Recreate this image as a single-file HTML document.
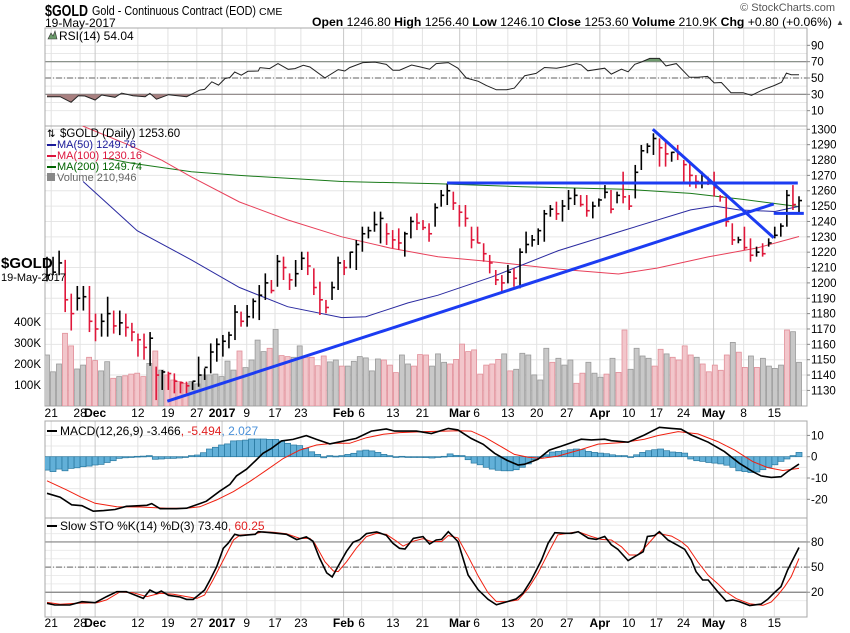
<!DOCTYPE html>
<html><head><meta charset="utf-8"><style>
body{margin:0;background:#fff;}
svg{display:block;font-family:"Liberation Sans",sans-serif;}
</style></head><body>
<svg id="chart" width="850" height="633" viewBox="0 0 850 633" xmlns="http://www.w3.org/2000/svg">
<defs>
<clipPath id="cRsi"><rect x="45" y="28" width="762" height="98"/></clipPath>
<clipPath id="cMain"><rect x="45" y="126" width="762" height="280"/></clipPath>
<clipPath id="cMacd"><rect x="45" y="421" width="762" height="97"/></clipPath>
<clipPath id="cSto"><rect x="45" y="518" width="762" height="99"/></clipPath>
<clipPath id="cLow30"><rect x="45" y="94.3" width="762" height="32"/></clipPath>
<clipPath id="cHigh70"><rect x="45" y="28" width="762" height="33.7"/></clipPath>
</defs>
<g id="grid"></g>
<g id="marks"></g>
<g id="texts">
<text x="45" y="16" font-size="16" font-weight="bold" textLength="43" lengthAdjust="spacingAndGlyphs">$GOLD</text>
<text x="92" y="15" font-size="12.5" textLength="164" lengthAdjust="spacingAndGlyphs">Gold - Continuous Contract (EOD)</text>
<text x="259" y="15" font-size="10.5">CME</text>
<text x="45" y="27" font-size="12">19-May-2017</text>
<text x="835" y="11" font-size="11" fill="#555" text-anchor="end">© StockCharts.com</text>
<text x="312" y="26" font-size="12" textLength="520" lengthAdjust="spacingAndGlyphs"><tspan font-weight="bold">Open</tspan> 1246.80 <tspan font-weight="bold">High</tspan> 1256.40 <tspan font-weight="bold">Low</tspan> 1246.10 <tspan font-weight="bold">Close</tspan> 1253.60 <tspan font-weight="bold">Volume</tspan> 210.9K <tspan font-weight="bold">Chg</tspan> +0.80 (+0.06%)</text>
<text x="836" y="25" font-size="8" fill="#444">▲</text>
<text x="59" y="40" font-size="12">RSI(14) 54.04</text>
<path d="M48 39 L51 33 L53 36 L55 31 L57 39 Z" fill="#6a9a6a" stroke="#333" stroke-width="0.6"/>
<text x="60" y="137" font-size="11.5">$GOLD (Daily) 1253.60</text>
<text x="47" y="137" font-size="10">⇅</text>
<rect x="47" y="144" width="9" height="2" fill="#1a1a9a"/>
<text x="57" y="148" font-size="11" fill="#1a1a9a">MA(50) 1249.76</text>
<rect x="47" y="155" width="9" height="2" fill="#dc143c"/>
<text x="57" y="159" font-size="11" fill="#dc143c">MA(100) 1230.16</text>
<rect x="47" y="166" width="9" height="2" fill="#006400"/>
<text x="57" y="170" font-size="11" fill="#006400">MA(200) 1249.74</text>
<text x="57" y="181" font-size="11" fill="#666">Volume 210,946</text>
<rect x="47" y="173" width="8" height="8" fill="#888"/>
<text x="1" y="268" font-size="15" font-weight="bold">$GOLD</text>
<text x="1" y="281" font-size="11">19-May-2017</text>
<rect x="47" y="430" width="10" height="2" fill="#000"/>
<text x="60" y="435" font-size="12">MACD(12,26,9) -3.466<tspan fill="#e02020">, -5.494</tspan><tspan fill="#4a90d9">, 2.027</tspan></text>
<rect x="47" y="525" width="10" height="2" fill="#000"/>
<text x="60" y="530" font-size="12">Slow STO %K(14) %D(3) 73.40<tspan fill="#e02020">, 60.25</tspan></text>
</g>
</svg>
<script>
// ---------- data ----------
const highs=[1217,1217,1221,1215,1193,1198,1198,1198,1180,1180,1191,1182,1182,1180,1174,1167,1167,1168,1145.5,1143.3,1142.2,1141.1,1135.7,1135.7,1135.7,1152,1144.4,1160.6,1163.9,1166.1,1168.2,1185.6,1181.3,1185.6,1189.9,1198.6,1206.2,1201.9,1218.2,1217.1,1206.2,1214.9,1220.3,1220.3,1209.5,1200.8,1188.9,1200.8,1217.1,1214.9,1220.3,1227.9,1236.6,1236.6,1246.4,1246.4,1238.8,1234.4,1235.5,1233.3,1243.1,1245.3,1240.9,1238.8,
1251.8,1260.5,1264.8,1259.4,1250.7,1250.7,1236.6,1236.6,1225.8,1218.2,1208.4,1205.1,1211.7,1209.5,1222.5,1233.4,1231.2,1235.5,1247.5,1250.7,1252.9,1254,1260.5,1261.6,1257.2,1257.2,1252.9,1255,1263.7,1260.5,1259.4,1272.4,1257.2,1276.8,1289.8,1290.9,1297.4,1294.1,1292,1285.4,1289.8,1280,1277.9,1270.2,1272.4,1269.2,1272.4,1257.2,1256.1,1238.8,1230.1,1236.6,1229,1223.6,1225.8,1229,1236.6,1238.8,1260.5,1263.7,1256.4];
const lows=[1201,1205,1205,1181,1169,1182,1182,1168,1162,1165,1165,1167,1166,1165,1162,1152,1150,1146,1123.7,1130.3,1130.3,1128.1,1128.1,1128.1,1130.3,1132.4,1136.8,1141.1,1148.7,1152,1157.4,1162.8,1171.5,1171.5,1176.9,1175.8,1188.9,1193.2,1197.5,1201.9,1195.4,1197.5,1208.4,1205.1,1192.1,1179.1,1180.2,1188.9,1195.4,1205.1,1209.5,1208.4,1220.3,1229,1233.3,1225.7,1224.7,1222.5,1221.4,1217.1,1229,1234.4,1234.4,1226.8,
1236.6,1249.6,1250.7,1247.5,1236.6,1236.6,1222.5,1225.8,1213.8,1206.2,1198.6,1194.3,1199.7,1197.5,1196.5,1219.3,1223.6,1224.7,1226.8,1243.1,1241,1239.9,1247.5,1250.7,1249.6,1243.1,1242,1249.6,1255,1245.3,1251.8,1251.8,1247.5,1255,1273.5,1284.4,1283.3,1275.7,1275.7,1278.9,1280,1265.9,1262.6,1261.6,1261.6,1263.7,1256.2,1252.9,1236.6,1224.7,1225.8,1221.4,1213.8,1217.1,1217.1,1223.6,1229,1230.1,1236.6,1247.5,1246.1];
const closes=[1205,1207,1213,1189,1180,1190,1191,1175,1170,1175,1180,1172,1174,1171,1168,1163,1158,1164,1140,1142,1141,1136,1135,1133,1136,1140,1145,1155,1160,1162,1166,1181,1175,1178,1188,1192,1200,1195,1214,1210,1202,1206,1216,1211,1197,1189,1184,1197,1213,1210,1220,1225,1232,1234,1238,1242,1232,1228,1226,1232,1240,1239,1236,1232,
1249,1257,1260,1252,1246,1242,1228,1226,1219,1213,1202,1200,1207,1203,1220,1225,1228,1234,1245,1248,1245,1250,1255,1257,1251,1247,1250,1254,1259,1248,1257,1256,1250,1272,1286,1289,1294,1288,1284,1285,1284,1277,1270,1266,1270,1267,1262,1256,1240,1228,1228,1223,1218,1220,1219,1226,1231,1237,1257,1251,1253.6];
const volumes=[243,163,200,346,286,176,195,232,216,167,211,132,140,144,152,156,140,203,262,171,148,124,116,108,116,105,148,148,152,140,214,171,262,183,219,314,259,275,365,240,235,232,286,232,232,192,238,210,219,190,190,213,235,229,167,224,219,195,159,243,200,190,245,
243,190,248,208,200,222,295,259,267,152,195,200,222,248,167,175,251,243,148,124,275,208,227,195,219,108,156,208,156,137,152,227,160,362,175,275,238,227,190,270,248,232,219,286,243,232,200,163,195,170,243,303,256,184,238,184,227,190,179,195,362,354,208];
const ma50Idx=[6,15,24,32,40,49,53,60,65,74,85,96,107,111,115,121,125];
const ma50Val=[1266,1234,1215,1197,1184.5,1177.4,1178,1187,1192,1204,1221,1234.4,1247.5,1250,1247.5,1246.5,1249.8];
const ma100Idx=[4,6,13.5,19,24,32,40,49,57,65,74,85,95,101.5,110,118,125];
const ma100Val=[1310,1302,1290,1280,1269,1252.7,1241,1230,1222.7,1217,1213.8,1209,1205.8,1209.7,1217,1222.7,1230.2];
const ma200Idx=[10,14,24,32,49,65,79,96,107,115.5,125];
const ma200Val=[1281,1278,1272.4,1270,1266,1264.5,1262.6,1261,1258.3,1254.4,1249.7];
const rsiIdx=[0,2.2,4,5.2,6.3,8,9.1,11.3,12.4,14.3,16.3,17.1,18.2,20.2,23.2,25.4,26.2,27.4,28.5,29.6,30.4,31.2,32.3,33.4,35.1,35.4,37,38.4,40.1,41.2,42.6,43.7,46.2,48.4,49.5,50.3,52.5,54.5,56.4,57.5,58.6,60.6,62,63.6,64.7,66.7,68.3,69.7,71.7,73,74.7,76.4,77.7,79.4,81.3,82.7,84.7,86.1,88,88.8,89.9,92.7,93.8,95.5,96.6,97.7,98.8,100.2,101.8,102.9,104.6,106.8,108.2,109.8,110.9,112.1,113.7,115.7,117.1,119,120.9,122.1,122.9,123.7,125];
const rsiVal=[27.1,27.1,20.3,28.3,28,23.1,29.2,26.4,31.5,28.3,27.1,31.2,24,29.6,27.1,35.2,36,45.3,41.3,49.4,50.6,57.4,53.4,58.2,58.6,62.7,61.5,67.6,60.7,61.5,65.5,63.5,50.1,60.3,58.6,62.7,68.8,69.5,66.7,59.5,59.5,65.9,63.6,60.8,67.6,68.8,62,50,46,41,35.6,35.6,37.6,52.8,55.6,62.8,62,64,67.6,66,58.8,62,54.8,60.8,57.6,66.8,69.6,74,74,64.8,67.6,50.8,50.8,52,44,44.5,32,32,28.8,35.6,40.8,44.8,56,54,54.04];
const macdIdx=[0,2.2,4.1,5.8,7.7,9.4,11.3,13.2,16.6,17.4,18.8,21.5,23.2,25.4,26.5,28.7,30.4,31.5,33.2,34.6,35.9,37.3,39,40.9,43.1,44.8,47,48.7,51.4,53.9,56.4,57.8,61.4,62.8,63.9,66.7,68.3,70.5,72.5,74.4,76.4,78.3,79.4,81.6,83.5,85.5,87.2,88.8,90.5,92.7,93.8,96.6,99.3,101.8,103.8,105.4,107.1,109.9,112.6,115.1,117.3,118.7,120.4,122,123.1,125];
const macdVal=[-17.2,-19,-22.6,-23,-25.6,-25.3,-24.8,-23.3,-22.8,-22,-24.4,-24.4,-24.2,-22,-20.9,-16.2,-13,-9,-5.8,-2,1.6,3.9,7.4,8.1,9.9,8.1,6,7,8.6,12,13,12,12,11.4,10.9,13.3,12.6,8.6,5.8,1.6,-1.6,-3.9,-3.5,-1.2,3.1,5,6.6,8.2,7.9,8.2,7.5,6.8,10.2,13.8,13.3,12.9,10.2,6.8,2.4,-3.1,-7,-9,-9.7,-9.4,-7,-3.466];
const sigIdx=[0,3.3,5.5,8,11.6,15.4,19.9,23.2,25.4,28.2,31,33.7,36.5,39.3,42,44.8,47.6,50.3,53.1,55.9,58.6,62.8,66.1,68.3,70.5,72.8,75.5,77.7,80,82.2,84.9,88.8,91.6,96,99.3,101.5,104.9,108.2,111.5,114.3,117.3,119.8,122.3,125];
const sigVal=[-11.3,-15.7,-18.8,-21.9,-23.5,-23.6,-24.2,-24.2,-23.5,-20.3,-16.4,-11.7,-6.3,-0.8,3.1,5.5,6.3,6.3,8.9,10.5,11.3,11.8,12,12.2,12,9.1,4.7,1.1,-0.3,-0.8,0.3,3.4,5.9,6.7,8.2,9.9,11.8,10.7,7.1,3.1,-2.3,-5.1,-6.5,-5.494];
const histVal=[-6.3,-7,-5.8,-6.6,-5.5,-5.2,-4.7,-4.4,-3.9,-3.6,-2.7,-1.9,-0.8,-0.5,-0.2,0.2,0.3,0.5,-1.2,-1.1,-0.8,-0.8,-0.6,-0.3,0.5,0.8,1.9,3.6,4.4,5.5,6,7.4,7.5,7.8,8.3,8.3,8.3,8.1,8.1,7.4,6.3,5.5,5.2,3.9,2.3,1.1,-0.5,0.5,0.3,0.5,1.1,1.6,2.7,3.1,2.7,2,1.1,0.5,0,0.2,0,-0.2,-0.3,-0.4,-0.6,
-0.2,0.2,1.3,0.6,0.5,-1.4,-3,-3.8,-5,-5.8,-6.4,-6.6,-6.6,-6.1,-5,-3.4,-1.4,-0.6,0.9,2.2,2.5,2.8,3.3,3.6,3.3,2.5,2,1.7,1.4,0.9,0.5,0.5,-0.2,0.9,2,2.8,3.3,3.6,2.8,2.2,2,1.7,-1.1,-1.9,-2.2,-2.7,-3,-3.4,-4,-5,-6.6,-7,-7.4,-7.2,-6.1,-5,-3.8,-2.2,-1.1,0.5,2.027];
const kIdx=[0,1.3,3.8,5.8,8,9.9,11.6,13.2,16,17.1,18.2,19,20.2,22.1,23.2,24.3,25.4,26.2,27.1,28.2,29.3,30.1,31.2,32.1,33.4,34.6,35.1,36.5,38.2,39.8,41.5,43.1,44.2,45.3,46.5,47.4,48.7,49.8,50.9,52,53.1,54.8,56.4,57.5,58.6,59.5,60.9,62.5,63.6,64.7,65.6,66.7,68.3,70,71.7,73.3,74.7,76.6,78,79.1,80.5,82.2,83.3,84.4,86.1,87.2,88.3,90,91.3,92.7,93.8,94.9,96.6,97.7,99.1,99.8,101,101.8,103.2,104.9,106,107.1,107.9,109,109.9,111.5,112.9,114,115.1,116.8,118.7,119.8,120.9,122,123.1,125];
const kVal=[6.8,4.8,4.8,8.7,7.5,14.8,20.7,20.7,12.7,22.7,18.7,21.5,16.3,14.3,11.5,11.5,17.9,22.7,34.6,50.5,72.4,78.4,89.2,87.5,88.4,89.2,92.3,91.5,90.3,89.2,82.8,86,80.9,61,43.1,38.3,55,69,79.7,82.8,90,92,88,78.4,72.4,71.6,84.4,86.4,77.6,82.3,83.1,92.3,80.5,40.6,22.8,11.6,5,8.9,12,18.7,34.6,58.5,78.4,91.1,90.3,90.3,92.3,84.5,83.1,86.5,76.6,71.2,57.8,62.5,68.4,86.5,87.7,92.3,82.3,75.6,71.2,58.5,44.5,34.6,34.6,20.7,9.6,10.8,8.8,4.2,5.8,11.6,19.5,26.7,46.5,73.4];
const dIdx=[0,2.2,4.9,8.3,9.9,12.1,14.3,16.6,18.8,21,23.2,24.9,26.2,27.6,29.3,31,32.1,34.3,35.9,37.6,39.8,42,43.7,44.5,46.2,47.6,48.4,49.8,51.4,53.1,54.8,56.4,58.1,59.2,60.9,62.5,63.9,65.6,66.7,68.3,70,71.7,73.3,74.7,76.6,78.3,80,81.6,83.3,84.9,87.2,88.3,90.5,92.1,93.8,95.5,96.8,98.2,99.6,101.5,103.8,105.4,106.5,108.2,109.9,111.5,112.9,114.6,116.8,119,120.4,121.5,122.6,123.7,125];
const dVal=[7.9,5.6,6.8,7.5,10.8,20.3,19.5,14.8,18.7,17.5,14.8,12.7,16.7,34.6,58.4,82.3,88.3,89.2,92.3,91.5,89.9,84.3,84.3,78.4,56.5,45.4,44.6,56.5,72.4,86.4,90.3,89.2,80.9,75,80.9,84,80.5,80.5,87.7,84.9,62.9,39,19.5,8.8,8.8,10.8,24.7,42.6,66.5,88.4,91.2,92.3,86.5,83.1,82.3,74.2,64.4,64.4,75.2,90.3,87,80.5,74,56.1,40.2,30.2,20.3,12.3,6.3,4.3,8.3,16.7,26.6,38.6,60.25];
const priceTicks=[1300,1290,1280,1270,1260,1250,1240,1230,1220,1210,1200,1190,1180,1170,1160,1150,1140,1130];
const volTicks=[100,200,300,400];
const rsiTicks=[90,70,50,30,10];
const macdTicks=[10,0,-10,-20];
const stoTicks=[80,50,20];
const dateLabels=["21","28","Dec","12","19","27","2017","9","17","23","Feb","6","13","21","Mar","6","13","20","27","Apr","10","17","24","May","8","15"];
const dateIdx=[0.7,5.5,8,15.1,20.1,24.9,29.1,33.2,37.9,42.2,49.3,52.3,57.5,62.4,68.6,71.4,76.6,81.4,86.4,91.9,96.7,101.3,105.8,110.8,115.8,120.9];
const dateMajor=[false,false,true,false,false,false,true,false,false,false,true,false,false,false,true,false,false,false,false,true,false,false,false,true,false,false];
const trendUp=[20,1123,120.8,1251.4];
const trendTop=[66.5,1265,124.8,1265];
const trendDown=[100.7,1300,120.8,1229.4];
const trendShort=[120.8,1245.3,125.8,1245.3];

// ---------- scales ----------
const X0=47, X1=799;
function xInd(i){return X0+i*(X1-X0)/125;}
function xPrice(i){return X0+i*(X1-X0)/(closes.length-1);}
function yP(p){return 129.3+(1300-p)*1.536;}
function yV(v){return 406-v*0.21;}
function yR(r){return 78-(r-50)*0.8167;}
function yM(m){return 456.7-m*2.13;}
function yS(s){return 609-s*0.838;}

const NS="http://www.w3.org/2000/svg";
const grid=document.getElementById('grid');
const marks=document.getElementById('marks');
function mk(tag,attrs,parent){const e=document.createElementNS(NS,tag);for(const k in attrs)e.setAttribute(k,attrs[k]);(parent||marks).appendChild(e);return e;}
function pts(idx,val,fx,fy){return idx.map((v,j)=>fx(v).toFixed(1)+','+fy(val[j]).toFixed(1)).join(' ');}

const panels=[[28,126],[126,406],[421,518],[518,617]];
for(const p of priceTicks){const l=mk('line',{x1:45,x2:807,y1:yP(p),y2:yP(p),stroke:'#e6e6e6'},grid);

}
for(let r=10;r<=90;r+=10){const l=mk('line',{x1:45,x2:807,y1:yR(r),y2:yR(r),stroke:'#e8e8e8'},grid);

}
for(let m=-20;m<=10;m+=5){const l=mk('line',{x1:45,x2:807,y1:yM(m),y2:yM(m),stroke:'#e8e8e8'},grid);

}
for(let s=10;s<=100;s+=10){const l=mk('line',{x1:45,x2:807,y1:yS(s),y2:yS(s),stroke:'#ececec'},grid);

}
dateIdx.forEach((d,j)=>{
  const x=xInd(d);
  for(const [a,b] of panels){const l=mk('line',{x1:x,x2:x,y1:a,y2:b,stroke:dateMajor[j]?'#c8c8c8':'#e2e2e2'},grid);
  
  }
  const t1=mk('text',{x:x,y:417,'font-size':12,'text-anchor':'middle','font-weight':dateMajor[j]?'bold':'normal'},grid);t1.textContent=dateLabels[j];
  
  
  const t2=mk('text',{x:x,y:627,'font-size':12,'text-anchor':'middle','font-weight':dateMajor[j]?'bold':'normal'},grid);t2.textContent=dateLabels[j];
  
  
});
[[yR(70),''],[yR(30),''],[yR(50),'6,2,1,2'],[yS(80),''],[yS(20),''],[yS(50),'6,2,1,2']].forEach(([y,d])=>{
  const l=mk('line',{x1:45,x2:807,y1:y,y2:y,stroke:'#808080','stroke-width':1.2,'stroke-dasharray':d},grid);
  
  
});
for(const [a,b] of panels){const r=mk('rect',{x:45,y:a,width:762,height:b-a,fill:'none',stroke:'#a8a8a8'},grid);

}
function axisLabel(v,y,name,txt){const t=mk('text',{x:811,y:y+4,'font-size':11.5},grid);t.textContent=txt;


mk('line',{x1:807,x2:810,y1:y,y2:y,stroke:'#888'},grid);}
priceTicks.forEach(p=>axisLabel(p,yP(p),'price-axis-label',String(p)));
rsiTicks.forEach(r=>axisLabel(r,yR(r),'rsi-axis-label',String(r)));
macdTicks.forEach(m=>axisLabel(m,yM(m),'macd-axis-label',String(m)));
stoTicks.forEach(s=>axisLabel(s,yS(s),'sto-axis-label',String(s)));
volTicks.forEach(v=>{const t=mk('text',{x:41,y:yV(v)+4,'font-size':11.5,'text-anchor':'end'},grid);t.textContent=v+'K';

});

// ---------- RSI ----------
const gR=mk('g',{'clip-path':'url(#cRsi)'});
const rsiPts=pts(rsiIdx,rsiVal,xInd,yR);
const fx0=xInd(rsiIdx[0]).toFixed(1), fx1=xInd(rsiIdx[rsiIdx.length-1]).toFixed(1);
const low=mk('polygon',{points:rsiPts+' '+fx1+','+yR(30)+' '+fx0+','+yR(30),fill:'#a88080','clip-path':'url(#cLow30)'},gR);


const high=mk('polygon',{points:rsiPts+' '+fx1+','+yR(70)+' '+fx0+','+yR(70),fill:'#6f9a6f','clip-path':'url(#cHigh70)'},gR);


const rl=mk('polyline',{points:rsiPts,fill:'none',stroke:'#222','stroke-width':1},gR);



// ---------- main panel ----------
const gM=mk('g',{'clip-path':'url(#cMain)'});
volumes.forEach((v,i)=>{
  const ci=Math.min(i,closes.length-1);
  const up=ci===0?true:closes[ci]>=closes[ci-1];
  const x=xInd(i);
  const r=mk('rect',{x:(x-2.5).toFixed(1),y:yV(v).toFixed(1),width:5,height:(406-yV(v)).toFixed(1),fill:up?'#c8c8c8':'#f2c6cb',stroke:up?'#9a9a9a':'#e2909a','stroke-width':0.8},gM);
  
  
});
function maLine(idx,val,color,name){const l=mk('polyline',{points:pts(idx,val,xInd,yP),fill:'none',stroke:color,'stroke-width':1},gM);

}
maLine(ma200Idx,ma200Val,'#1a7a1a','ma200-line');
maLine(ma100Idx,ma100Val,'#e8405a','ma100-line');
maLine(ma50Idx,ma50Val,'#2a2aa0','ma50-line');
closes.forEach((c,i)=>{
  const up=i===0?true:c>=closes[i-1];
  const col=up?'#000':'#e0173a';
  const x=xPrice(i);
  const g=mk('g',{stroke:col,'stroke-width':1.6},gM);
  
  
  mk('line',{x1:x,x2:x,y1:yP(highs[i]),y2:yP(lows[i])},g);
  mk('line',{x1:x,x2:x+3,y1:yP(c),y2:yP(c)},g);
});
function tl(a,name){const l=mk('line',{x1:xInd(a[0]),y1:yP(a[1]),x2:xInd(a[2]),y2:yP(a[3]),stroke:'#1c3cf2','stroke-width':3},gM);

}
tl(trendUp,'uptrend-line');tl(trendTop,'resistance-line');tl(trendDown,'downtrend-line');tl(trendShort,'support-line');

// ---------- MACD ----------
const gC=mk('g',{'clip-path':'url(#cMacd)'});
histVal.forEach((h,i)=>{
  const x=xInd(i), y0=yM(0), y1=yM(h);
  const r=mk('rect',{x:(x-3).toFixed(1),y:Math.min(y0,y1).toFixed(1),width:6,height:Math.max(0.8,Math.abs(y1-y0)).toFixed(1),fill:'#62b0d8',stroke:'#2878a0','stroke-width':0.7},gC);
  
  
});
const sl=mk('polyline',{points:pts(sigIdx,sigVal,xInd,yM),fill:'none',stroke:'#f02010','stroke-width':1},gC);


const ml=mk('polyline',{points:pts(macdIdx,macdVal,xInd,yM),fill:'none',stroke:'#000','stroke-width':1.6},gC);



// ---------- Stochastic ----------
const gS=mk('g',{'clip-path':'url(#cSto)'});
const dl=mk('polyline',{points:pts(dIdx,dVal,xInd,yS),fill:'none',stroke:'#f02010','stroke-width':1},gS);


const kl=mk('polyline',{points:pts(kIdx,kVal,xInd,yS),fill:'none',stroke:'#000','stroke-width':1.6},gS);


</script>
</body></html>
